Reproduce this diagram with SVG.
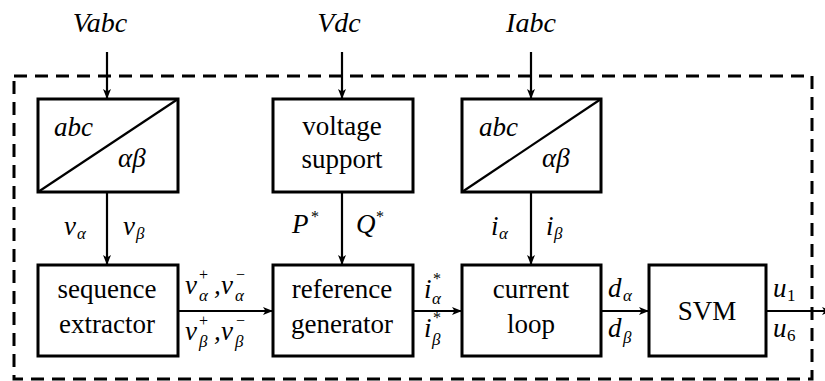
<svg xmlns="http://www.w3.org/2000/svg" width="825" height="381" viewBox="0 0 825 381">
<style>
.box{fill:#fff;stroke:#000;stroke-width:3}
.ln{fill:none;stroke:#000;stroke-width:2.2}
.dash{fill:none;stroke:#000;stroke-width:3;stroke-dasharray:13 8}
text{fill:#000}
.t{font-size:27px;text-anchor:middle}
.m{font-style:italic;font-size:27px}
.s{font-style:italic;font-size:17px}
.n{font-size:17px}
.p{font-size:16px}
.top{font-style:italic;font-size:28px;text-anchor:middle}
</style>
<defs>
<marker id="ar" markerWidth="10" markerHeight="8" refX="9" refY="4" orient="auto" markerUnits="userSpaceOnUse">
<path d="M0,0 L10,4 L0,8 L2.5,4 Z" fill="#000"/>
</marker>
</defs>
<rect class="dash" x="14" y="76" width="798" height="303"/>
<g font-family="Liberation Serif, Tinos, Times New Roman, Noto Serif, DejaVu Serif, FreeSerif, serif">
<g id="labels-top">
<text class="top" x="100" y="32">Vabc</text>
<text class="top" x="339" y="32">Vdc</text>
<text class="top" x="531" y="32">Iabc</text>
</g>
<g id="connectors">
<line class="ln" x1="107" y1="52" x2="107" y2="98" marker-end="url(#ar)"/>
<line class="ln" x1="342" y1="52" x2="342" y2="98" marker-end="url(#ar)"/>
<line class="ln" x1="531" y1="52" x2="531" y2="98" marker-end="url(#ar)"/>
<line class="ln" x1="107" y1="192" x2="107" y2="264" marker-end="url(#ar)"/>
<line class="ln" x1="342" y1="192" x2="342" y2="264" marker-end="url(#ar)"/>
<line class="ln" x1="531" y1="192" x2="531" y2="264" marker-end="url(#ar)"/>
<line class="ln" x1="178" y1="311" x2="272" y2="311" marker-end="url(#ar)"/>
<line class="ln" x1="413" y1="311" x2="461" y2="311" marker-end="url(#ar)"/>
<line class="ln" x1="601" y1="311" x2="648" y2="311" marker-end="url(#ar)"/>
<line class="ln" x1="766" y1="311" x2="831" y2="311" marker-end="url(#ar)"/>
</g>
<g id="abc1">
<rect class="box" x="38" y="99" width="140" height="93"/>
<line class="ln" x1="38" y1="192" x2="178" y2="99"/>
<text class="m" x="54" y="136">abc</text>
<text class="m" x="118" y="167">αβ</text>
</g>
<g id="voltage-support">
<rect class="box" x="273" y="99" width="140" height="93"/>
<text class="t" x="342" y="135">voltage</text>
<text class="t" x="342" y="168">support</text>
</g>
<g id="abc2">
<rect class="box" x="462" y="99" width="139" height="93"/>
<line class="ln" x1="462" y1="192" x2="601" y2="99"/>
<text class="m" x="479" y="136">abc</text>
<text class="m" x="542" y="167">αβ</text>
</g>
<g id="sequence-extractor">
<rect class="box" x="38" y="265" width="140" height="91"/>
<text class="t" x="107" y="298">sequence</text>
<text class="t" x="107" y="333">extractor</text>
</g>
<g id="reference-generator">
<rect class="box" x="273" y="265" width="140" height="91"/>
<text class="t" x="342" y="298">reference</text>
<text class="t" x="342" y="333">generator</text>
</g>
<g id="current-loop">
<rect class="box" x="462" y="265" width="139" height="91"/>
<text class="t" x="531" y="298">current</text>
<text class="t" x="531" y="333">loop</text>
</g>
<g id="svm">
<rect class="box" x="649" y="265" width="117" height="91"/>
<text class="t" x="707" y="320">SVM</text>
</g>
<g id="edge-labels">
<text class="m" x="64" y="235">v</text><text class="s" x="77" y="239">α</text>
<text class="m" x="123" y="235">v</text><text class="s" x="136" y="239">β</text>
<text class="m" x="292" y="233">P</text><text class="p" x="311" y="222">*</text>
<text class="m" x="356" y="233">Q</text><text class="p" x="376" y="222">*</text>
<text class="m" x="491" y="235">i</text><text class="s" x="499" y="239">α</text>
<text class="m" x="546" y="235">i</text><text class="s" x="554" y="239">β</text>
<text class="m" x="185" y="294">v</text><text class="p" x="199" y="280">+</text><text class="s" x="199" y="301">α</text>
<text class="m" x="214" y="294">,</text>
<text class="m" x="221" y="294">v</text><text class="p" x="236" y="280">−</text><text class="s" x="235" y="301">α</text>
<text class="m" x="185" y="340">v</text><text class="p" x="199" y="326">+</text><text class="s" x="199" y="347">β</text>
<text class="m" x="214" y="340">,</text>
<text class="m" x="221" y="340">v</text><text class="p" x="236" y="326">−</text><text class="s" x="235" y="347">β</text>
<text class="m" x="424" y="298">i</text><text class="p" x="433" y="284">*</text><text class="s" x="432" y="304">α</text>
<text class="m" x="424" y="337">i</text><text class="p" x="433" y="323">*</text><text class="s" x="432" y="345">β</text>
<text class="m" x="608" y="297">d</text><text class="s" x="623" y="301">α</text>
<text class="m" x="608" y="337">d</text><text class="s" x="623" y="343">β</text>
<text class="m" x="773" y="297">u</text><text class="n" x="787" y="301">1</text>
<text class="m" x="773" y="337">u</text><text class="n" x="787" y="341">6</text>
</g>
</g>
</svg>
